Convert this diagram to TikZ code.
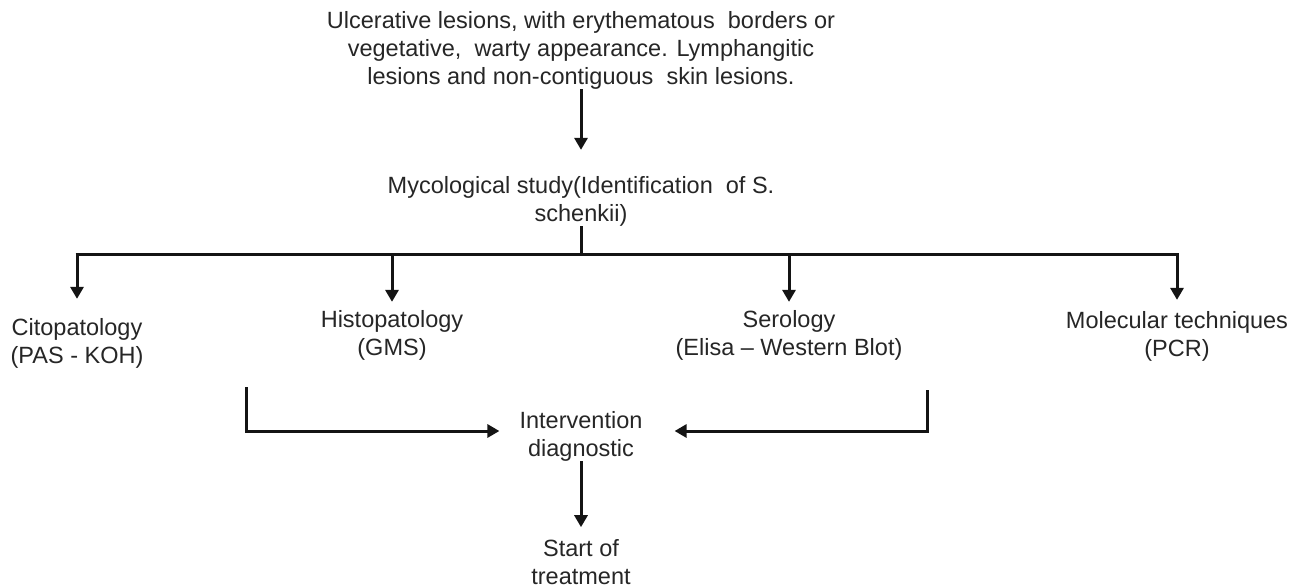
\documentclass[tikz,border=0pt]{standalone}
\usepackage{fontspec}
\setmainfont{Liberation Sans}
\usetikzlibrary{arrows.meta,calc}
\begin{document}
\begin{tikzpicture}[x=1pt,y=-1pt,
  txt/.style={align=center,inner sep=0pt,text=black!85,font=\fontsize{23.5}{28}\selectfont},
  conn/.style={line width=3pt,draw=black!92},
  arr/.style={conn,-{Triangle[width=13pt,length=12pt]}}]
\useasboundingbox[fill=white] (0,0) rectangle (1298,587);
\node[txt] (top) at (581,50) {Ulcerative lesions, with erythematous\ \ borders or\\vegetative,\ \ warty appearance. Lymphangitic\\lesions and non-contiguous\ \ skin lesions.};
\node[txt] (myco) at (581,201) {Mycological study(Identification\ \ of S.\\schenkii)};
\node[txt] (cito) at (77,343) {Citopatology\\(PAS - KOH)};
\node[txt] (histo) at (392,335) {Histopatology\\(GMS)};
\node[txt] (sero) at (789,335) {Serology\\(Elisa – Western Blot)};
\node[txt] (mol) at (1177,336) {Molecular techniques\\(PCR)};
\node[txt] (interv) at (581,436) {Intervention\\diagnostic};
\node[txt] (start) at (581,562) {Start of\\treatment};
\coordinate (j) at (581,254);
\coordinate (lb) at (246,387);
\coordinate (rb) at (927,390);
\draw[arr] (top.south) -- ([yshift=26pt]myco.north);
\draw[conn] (myco.south) -- (j);
\draw[conn] ([xshift=-1.5pt]cito |- j) -- ([xshift=1.5pt]mol |- j);
\draw[arr] (cito |- j) -- ([yshift=19pt]cito.north);
\draw[arr] (histo |- j) -- ([yshift=8pt]histo.north);
\draw[arr] (sero |- j) -- ([yshift=8pt]sero.north);
\draw[arr] (mol |- j) -- ([yshift=11pt]mol.north);
\draw[arr] (lb) |- ([xshift=-20pt,yshift=5pt]interv.west);
\draw[arr] (rb) |- ([xshift=32pt,yshift=5pt]interv.east);
\draw[arr] (interv.south) -- ([yshift=12pt]start.north);
\end{tikzpicture}
\end{document}
